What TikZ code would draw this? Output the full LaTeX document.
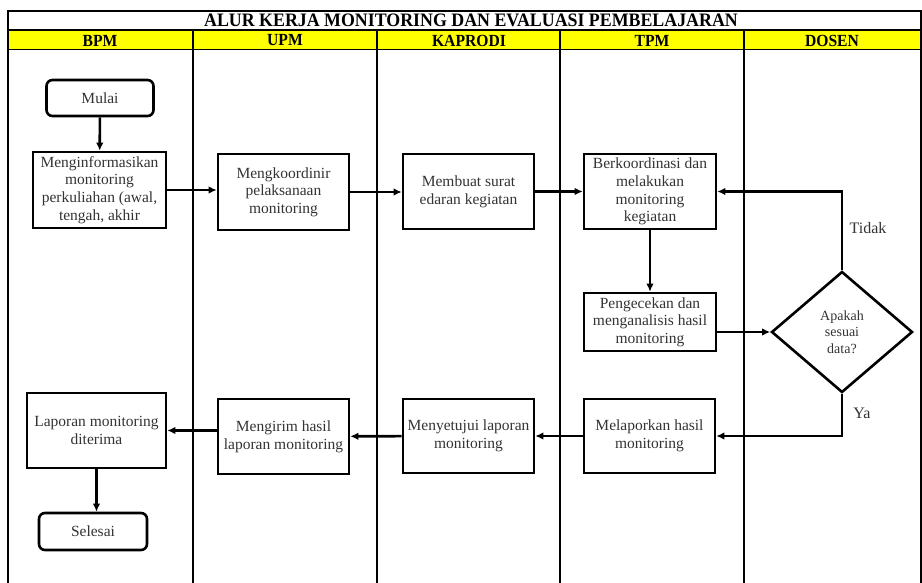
\documentclass[tikz,border=0pt]{standalone}
\usepackage{fontspec}
\setmainfont{Liberation Serif}
\usetikzlibrary{arrows.meta,shapes.geometric}
\definecolor{hdryellow}{HTML}{FFFF00}
\begin{document}
\begin{tikzpicture}[x=1pt,y=-1pt,
  box/.style={draw, line width=2.6pt, align=center, inner sep=0pt,
    font=\fontsize{15.5}{17.7}\selectfont, text=black!80},
  term/.style={box, rounded corners=6pt},
  decide/.style={draw, diamond, line width=2.6pt, inner sep=0pt, align=center,
    font=\fontsize{14}{16.5}\selectfont, text=black!80},
  flow/.style={line width=2.6pt, -{Latex[length=8pt,width=7.5pt]}},
  lane/.style={line width=1.9pt},
  ttl/.style={font=\fontsize{19}{19}\selectfont\bfseries, xscale=0.94},
  hdr/.style={font=\fontsize{17}{17}\selectfont\bfseries, xscale=0.92},
  lbl/.style={font=\fontsize{16}{18}\selectfont, text=black!80}]
\useasboundingbox (0,0) rectangle (922,583);
% frame and header
\fill[hdryellow] (8,30) rectangle (921,49);
\draw[lane] (8,583) -- (8,11) -- (921,11) -- (921,583);
\draw[lane] (8,30) -- (921,30);
\draw[lane] (8,49.5) -- (921,49.5);
\foreach \x in {193,377,560,744} \draw[lane] (\x,30) -- (\x,583);
\node[ttl] (title) at (471,20.5) {ALUR KERJA MONITORING DAN EVALUASI PEMBELAJARAN};
\node[hdr] (hbpm) at (100,40.5) {BPM};
\node[hdr] (hupm) at (285,40.5) {UPM};
\node[hdr] (hkap) at (469,40.5) {KAPRODI};
\node[hdr] (htpm) at (652,40.5) {TPM};
\node[hdr] (hdos) at (832,40.5) {DOSEN};
% nodes
\node[term, minimum width=107pt, minimum height=36pt] (mulai) at (100,98) {Mulai};
\node[box, minimum width=133pt, minimum height=76pt] (info) at (99.5,190) {Menginformasikan\\monitoring\\perkuliahan (awal,\\tengah, akhir};
\node[box, minimum width=131pt, minimum height=76pt] (koord) at (283.5,192) {Mengkoordinir\\pelaksanaan\\monitoring};
\node[box, minimum width=131pt, minimum height=75pt] (surat) at (468.5,191.5) {Membuat surat\\edaran kegiatan};
\node[box, minimum width=132pt, minimum height=75pt] (berk) at (650,191.5) {Berkoordinasi dan\\melakukan\\monitoring\\kegiatan};
\node[box, minimum width=132pt, minimum height=58pt] (cek) at (650,322) {Pengecekan dan\\menganalisis hasil\\monitoring};
\node[decide, minimum width=141pt, minimum height=121pt] (dec) at (842,332) {Apakah\\sesuai\\data?};
\node[box, minimum width=131pt, minimum height=74pt] (lapor) at (649.5,436) {Melaporkan hasil\\monitoring};
\node[box, minimum width=131pt, minimum height=74pt] (setuju) at (468.5,436) {Menyetujui laporan\\monitoring};
\node[box, minimum width=131pt, minimum height=75pt] (kirim) at (283.5,436.5) {Mengirim hasil\\laporan monitoring};
\node[box, minimum width=139pt, minimum height=75pt] (terima) at (96.5,430.5) {Laporan monitoring\\diterima};
\node[term, minimum width=108pt, minimum height=37pt] (selesai) at (93,531.5) {Selesai};
\node[lbl] (tidak) at (868,228) {Tidak};
\node[lbl] (ya) at (862,413) {Ya};
% connectors
\draw[flow] (mulai) -- (info);
\draw[flow] (info.east) -- (info.east -| koord.west);
\draw[flow] (koord.east) -- (koord.east -| surat.west);
\draw[flow] (surat) -- (berk);
\draw[flow] (berk) -- (cek);
\draw[flow] (cek.east |- dec.west) -- (dec.west);
\draw[flow] (dec.north) |- (berk.east);
\draw[flow] (dec.south) |- (lapor.east);
\draw[flow] (lapor) -- (setuju);
\draw[flow] (setuju) -- (kirim);
\draw[flow] (kirim.west |- terima.east) -- (terima.east);
\draw[flow] (terima.south) -- (terima.south |- selesai.north);
\end{tikzpicture}
\end{document}
